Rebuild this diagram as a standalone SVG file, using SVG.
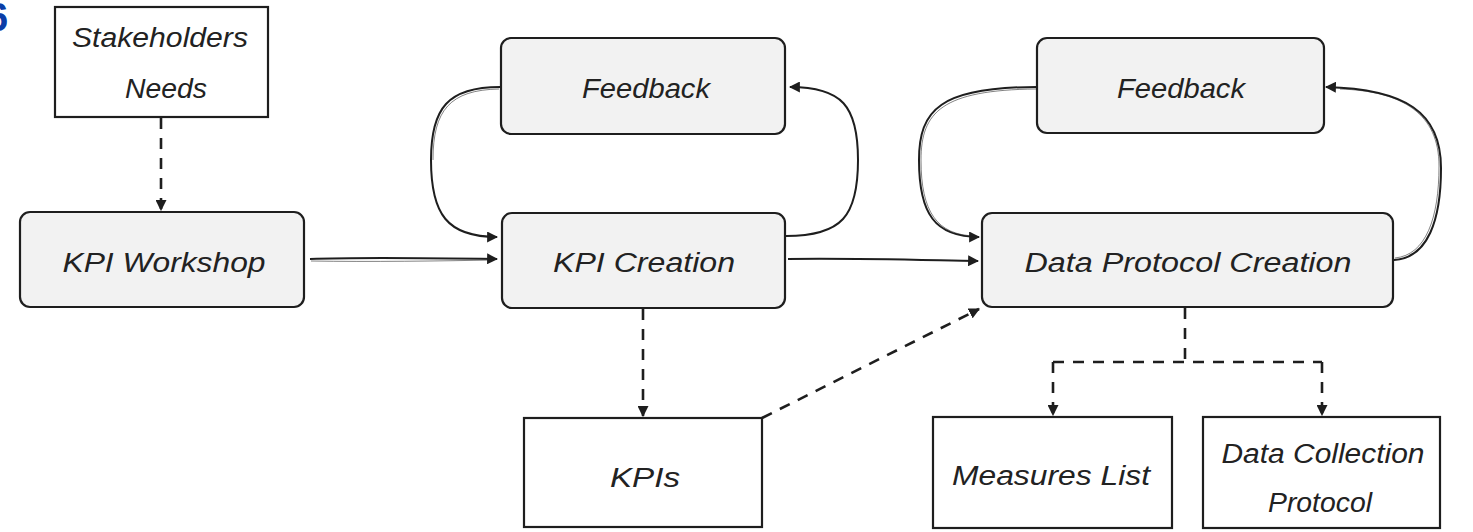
<svg xmlns="http://www.w3.org/2000/svg" width="1473" height="532" viewBox="0 0 1473 532">
<style>
.box{fill:#ffffff;stroke:#1e1e1e;stroke-width:2.2}
.rbox{fill:#f2f2f2;stroke:#1e1e1e;stroke-width:2.2}
.sk{fill:none;stroke:#1e1e1e;stroke-width:1;opacity:0.55}
.lbl{font-family:"Liberation Sans",Arial,sans-serif;font-style:italic;font-size:27px;fill:#222;text-anchor:middle}
.ln{fill:none;stroke:#1e1e1e;stroke-width:2}
.dash{fill:none;stroke:#1e1e1e;stroke-width:2.6;stroke-dasharray:11 9}
</style>
<defs>
<marker id="ah" viewBox="0 0 10 10" refX="9" refY="5" markerWidth="11" markerHeight="11" markerUnits="userSpaceOnUse" orient="auto">
<path d="M0,0 L10,5 L0,10 z" fill="#1e1e1e"/>
</marker>
</defs>
<text x="-14" y="31" font-family="Liberation Sans,Arial,sans-serif" font-weight="bold" font-size="40" fill="#0b3ea8">6</text>

<g id="connectors">
<path class="dash" d="M161 118 L161 210" marker-end="url(#ah)"/>
<path class="ln" d="M310 259 C360 257 430 258 497 259" marker-end="url(#ah)"/>
<path class="sk" d="M311 261 C370 262 440 261 494 260"/>
<path class="ln" d="M500 87 C448 87 431 108 431 160 C431 214 447 237 497 237" marker-end="url(#ah)"/>
<path class="sk" d="M499 89 C450 90 433 110 433 160"/>
<path class="ln" d="M786 236 C842 236 858 216 858 160 C858 106 842 87 790 87" marker-end="url(#ah)"/>
<path class="ln" d="M788 259 C850 258 920 260 978 261" marker-end="url(#ah)"/>
<path class="ln" d="M1037 87 C940 87 919 110 919 160 C919 214 935 237 979 237" marker-end="url(#ah)"/>
<path class="sk" d="M1036 89 C942 90 921 112 921 160 C921 212 937 235 975 236"/>
<path class="ln" d="M1394 260 C1428 258 1441 220 1441 168 C1441 112 1405 89 1326 87" marker-end="url(#ah)"/>
<path class="sk" d="M1395 258 C1426 255 1439 218 1439 166 C1439 114 1403 91 1340 89"/>
<path class="dash" d="M643 309 L643 416" marker-end="url(#ah)"/>
<path class="dash" d="M762 418 L979 309" marker-end="url(#ah)"/>
<path class="dash" d="M1185 308 L1185 362"/>
<path class="dash" d="M1053 362 L1322 362"/>
<path class="dash" d="M1053 362 L1053 415" marker-end="url(#ah)"/>
<path class="dash" d="M1322 362 L1322 415" marker-end="url(#ah)"/>
</g>

<g id="stakeholders">
<rect class="box" x="55" y="7" width="213" height="110"/>
<text class="lbl" x="160" y="47" textLength="176" lengthAdjust="spacingAndGlyphs">Stakeholders</text>
<text class="lbl" x="166" y="98" textLength="82" lengthAdjust="spacingAndGlyphs">Needs</text>
</g>
<g id="kpi-workshop">
<rect class="rbox" x="20" y="212" width="284" height="95" rx="10"/>
<text class="lbl" x="164" y="272" textLength="203" lengthAdjust="spacingAndGlyphs">KPI Workshop</text>
</g>
<g id="feedback1">
<rect class="rbox" x="501" y="38" width="284" height="96" rx="10"/>
<text class="lbl" x="646" y="98" textLength="128" lengthAdjust="spacingAndGlyphs">Feedback</text>
</g>
<g id="kpi-creation">
<rect class="rbox" x="502" y="213" width="283" height="95" rx="10"/>
<text class="lbl" x="644" y="272" textLength="182" lengthAdjust="spacingAndGlyphs">KPI Creation</text>
</g>
<g id="feedback2">
<rect class="rbox" x="1037" y="38" width="287" height="95" rx="10"/>
<text class="lbl" x="1181" y="98" textLength="128" lengthAdjust="spacingAndGlyphs">Feedback</text>
</g>
<g id="data-protocol-creation">
<rect class="rbox" x="982" y="213" width="411" height="94" rx="10"/>
<text class="lbl" x="1188" y="272" textLength="327" lengthAdjust="spacingAndGlyphs">Data Protocol Creation</text>
</g>
<g id="kpis">
<rect class="box" x="524" y="418" width="238" height="109"/>
<text class="lbl" x="645" y="487" textLength="70" lengthAdjust="spacingAndGlyphs">KPIs</text>
</g>
<g id="measures-list">
<rect class="box" x="933" y="417" width="239" height="111"/>
<text class="lbl" x="1051" y="485" textLength="198" lengthAdjust="spacingAndGlyphs">Measures  List</text>
</g>
<g id="data-collection-protocol">
<rect class="box" x="1203" y="417" width="237" height="111"/>
<text class="lbl" x="1323" y="463" textLength="203" lengthAdjust="spacingAndGlyphs">Data Collection</text>
<text class="lbl" x="1320" y="512" textLength="104" lengthAdjust="spacingAndGlyphs">Protocol</text>
</g>
</svg>
